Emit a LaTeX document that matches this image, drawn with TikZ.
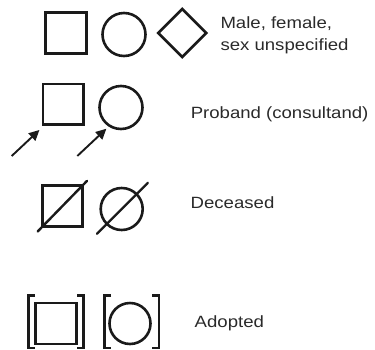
\documentclass[tikz,border=0pt]{standalone}
\usepackage{fontspec}
\setmainfont{Liberation Sans}
\usetikzlibrary{shapes.geometric,arrows.meta}
\definecolor{ink}{HTML}{1A1A1A}
\definecolor{txt}{HTML}{2A2A2A}
\tikzset{
  sym/.style={draw=ink, line width=2.6pt, inner sep=0pt, outer sep=0pt},
  sqsym/.style={sym, rectangle, minimum width=#1, minimum height=#1},
  cisym/.style={sym, circle, minimum size=#1},
  slash/.style={draw=ink, line width=2.4pt, line cap=round},
  bracket/.style={draw=ink, line width=2.6pt},
  pointer/.style={draw=ink, line width=1.9pt, -{Triangle[length=10.5pt,width=10pt]}},
  caption/.style={anchor=base west, inner sep=0pt, text=txt,
    font=\fontsize{16.3}{19}\selectfont},
}
\newcommand{\wide}[1]{\scalebox{1.14}[1]{#1}}
\begin{document}
\begin{tikzpicture}[x=1pt, y=-1pt]
\useasboundingbox (0,0) rectangle (375,349);

% male, female, sex unspecified
\node[sqsym=41pt] (sq1) at (65.7,32.7) {};
\node[cisym=43pt] (ci1) at (124,34.5) {};
\node[sym, diamond, minimum width=48pt, minimum height=48pt] (di1) at (182.3,33) {};
\node[caption] (lab1a) at (220.3,28.5) {\wide{Male, female,}};
\node[caption] (lab1b) at (220.3,50.5) {\wide{sex unspecified}};

% proband
\node[sqsym=40.5pt] (sq2) at (63.3,104.2) {};
\node[cisym=43pt] (ci2) at (121,107.5) {};
\coordinate (t1) at (11.7,156);
\coordinate (t2) at (77.3,156);
\draw[pointer] (t1) -- ([shift={(-3.6,5.5)}]sq2.south west);
\draw[pointer] (t2) -- ([shift={(0.6,6)}]ci2.south west);
\node[caption] (lab2) at (190.6,118) {\wide{Proband (consultand)}};

% deceased
\node[sym, rectangle, minimum width=40pt, minimum height=41pt] (sq3) at (62.5,206) {};
\node[cisym=42pt] (ci3) at (121.7,209) {};
\draw[slash, shorten <=-7pt, shorten >=-6.5pt] (sq3.south west) -- (sq3.north east);
\draw[slash, shorten <=-14pt, shorten >=-16pt] (ci3.225) -- (ci3.45);
\node[caption] (lab3) at (190.5,208.3) {\wide{Deceased}};

% adopted
\node[sqsym=41pt] (sq4) at (55.7,323.3) {};
\node[cisym=41pt] (ci4) at (130,323.5) {};
\draw[bracket] (35,295.5) -- (28.5,295.5) -- (28.5,348) -- (35,348);
\draw[bracket] (77,295.5) -- (83.5,295.5) -- (83.5,348) -- (77,348);
\draw[bracket] (111,295.5) -- (104.5,295.5) -- (104.5,348) -- (111,348);
\draw[bracket] (152.3,295.5) -- (158.8,295.5) -- (158.8,348) -- (152.3,348);
\node[caption] (lab4) at (194.5,327) {\wide{Adopted}};
\end{tikzpicture}
\end{document}
